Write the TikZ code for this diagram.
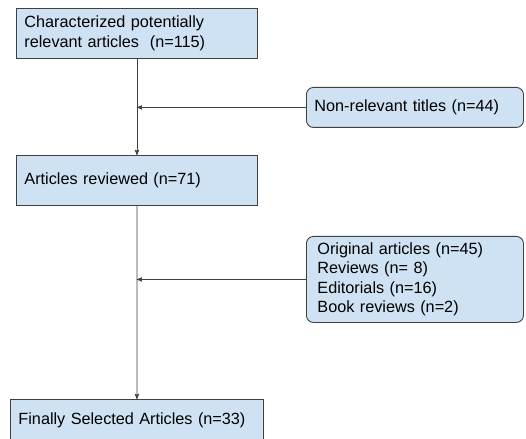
\documentclass[tikz,border=0pt]{standalone}
\usepackage{fontspec}
\setmainfont{Liberation Sans}
\usetikzlibrary{arrows}
\definecolor{boxblue}{HTML}{CFE2F3}
\definecolor{edgegray}{HTML}{404040}

\begin{document}
\begin{tikzpicture}[x=1bp,y=-1bp,
	stage/.style={draw=edgegray,fill=boxblue,line width=0.9pt,anchor=north west,
		inner xsep=8bp,align=left,font=\fontsize{16.3}{19.5}\selectfont},
	excluded/.style={stage,rounded corners=7bp}]
		\useasboundingbox (0,0) rectangle (526,439);
		\node[stage,text width=225bp,minimum height=50bp] (cited) at (16,8)
			{Characterized potentially\\relevant articles\ \ (n=115)};
		\node[stage,text width=225bp,minimum height=50bp] (reviewed) at (16,155)
			{Articles reviewed (n=71)};
		\node[stage,text width=237bp,minimum height=41bp] (selected) at (10,399)
			{Finally Selected Articles (n=33)};
		\node[excluded,text width=201bp,minimum height=40bp] (titles) at (306,87)
			{Non-relevant titles (n=44)};
		\node[excluded,inner xsep=11bp,text width=195bp,minimum height=86bp] (types) at (306,236)
			{Original articles (n=45)\\Reviews (n= 8)\\Editorials (n=16)\\Book reviews (n=2)};
		%
		\path[->,color=edgegray,line width=0.9pt,>=stealth']
		(cited) edge (reviewed)
		(reviewed) edge (selected)
		(titles.west) edge (titles.west -| cited.south)
		(types.west) edge (types.west -| reviewed.south);
	\end{tikzpicture}
\end{document}
